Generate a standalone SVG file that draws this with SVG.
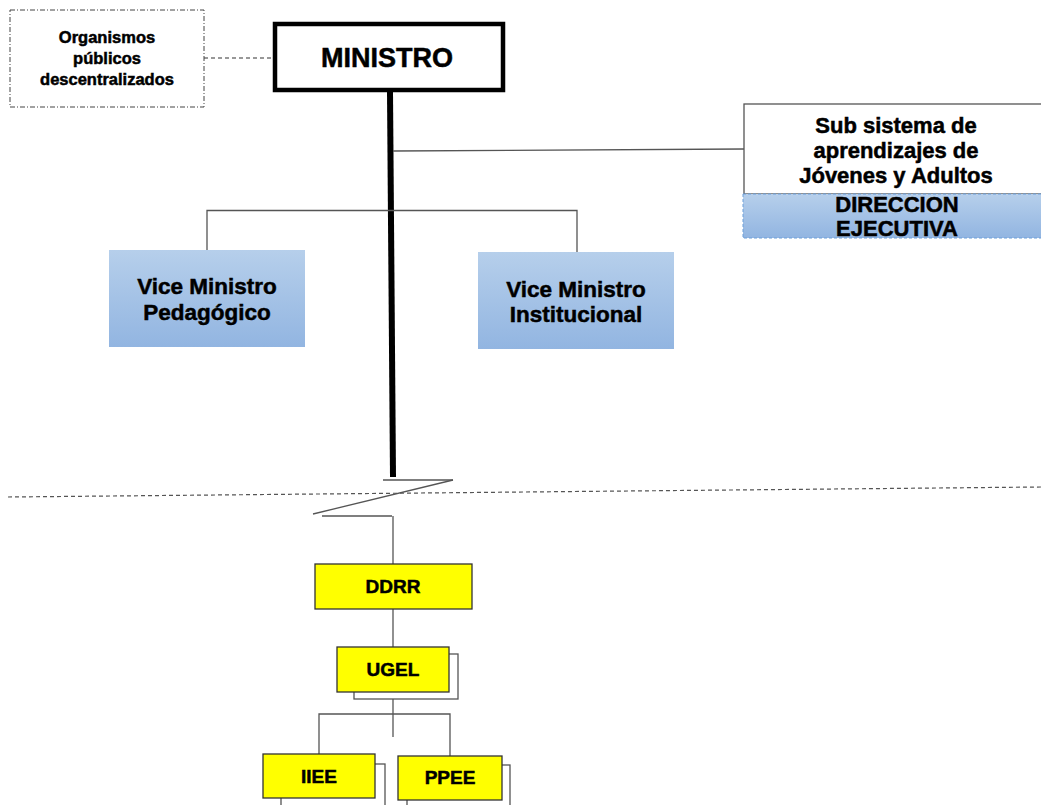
<svg xmlns="http://www.w3.org/2000/svg" width="1041" height="805" viewBox="0 0 1041 805">
<style>
text{font-family:"Liberation Sans",Arial,sans-serif;font-weight:bold;fill:#000;stroke:#000;stroke-width:0.5;text-anchor:middle}
.conn{stroke:#555;stroke-width:1.3;fill:none}
.blue{fill:url(#bg)}
.yel{fill:#ffff00;stroke:#333;stroke-width:1.3}
.shadow{fill:#fff;stroke:#555;stroke-width:1.3}
</style>
<defs>
<linearGradient id="bg" x1="0" y1="0" x2="0" y2="1">
<stop offset="0" stop-color="#b6cfeb"/>
<stop offset="1" stop-color="#92b5e1"/>
</linearGradient>
</defs>
<rect width="1041" height="805" fill="#fff"/>
<g id="connectors">
<line x1="204" y1="58" x2="273" y2="58" stroke="#777" stroke-width="1.3" stroke-dasharray="4,3"/>
<line x1="390" y1="92" x2="393" y2="477" stroke="#000" stroke-width="6"/>
<line x1="393" y1="151" x2="744" y2="149" class="conn"/>
<polyline points="207,250 207,210.5 577,210.5 577,252" class="conn"/>
<line x1="383" y1="480" x2="453" y2="480" class="conn" stroke-width="1.6"/>
<line x1="453" y1="480" x2="313" y2="514" class="conn" stroke-width="1.6"/>
<line x1="322" y1="516" x2="392" y2="516" class="conn" stroke-width="1.6"/>
<line x1="393" y1="516" x2="393" y2="564" class="conn"/>
<line x1="393" y1="609" x2="393" y2="647" class="conn"/>
<line x1="393" y1="692" x2="393" y2="737" class="conn"/>
<polyline points="319,754 319,714 450,714 450,756" class="conn"/>
<line x1="8" y1="497" x2="1041" y2="487" stroke="#555" stroke-width="1.2" stroke-dasharray="4,3"/>
</g>
<g id="organismos">
<rect x="10" y="10" width="194" height="97" fill="#fff" stroke="#444" stroke-width="1" stroke-dasharray="5,2,1,2"/>
<text x="107" y="43" font-size="16.5">Organismos</text>
<text x="107" y="64" font-size="16.5">públicos</text>
<text x="107" y="85" font-size="16.5">descentralizados</text>
</g>
<g id="ministro">
<rect x="275" y="24" width="228" height="66" fill="#fff" stroke="#000" stroke-width="4.5"/>
<text x="387" y="67" font-size="27">MINISTRO</text>
</g>
<g id="subsistema">
<rect x="744" y="104" width="310" height="90" fill="#fff" stroke="#555" stroke-width="1.3"/>
<text x="896" y="133" font-size="22">Sub sistema de</text>
<text x="896" y="158" font-size="22">aprendizajes de</text>
<text x="896" y="183" font-size="22">Jóvenes y Adultos</text>
</g>
<g id="direccion">
<rect x="743" y="194" width="310" height="44" class="blue" stroke="#6d9fd9" stroke-width="1" stroke-dasharray="3,2"/>
<text x="897" y="212" font-size="22">DIRECCION</text>
<text x="897" y="236" font-size="22">EJECUTIVA</text>
</g>
<g id="vm-pedagogico">
<rect x="109" y="250" width="196" height="97" class="blue"/>
<text x="207" y="294" font-size="22.5">Vice Ministro</text>
<text x="207" y="320" font-size="22.5">Pedagógico</text>
</g>
<g id="vm-institucional">
<rect x="478" y="252" width="196" height="97" class="blue"/>
<text x="576" y="297" font-size="22.5">Vice Ministro</text>
<text x="576" y="322" font-size="22.5">Institucional</text>
</g>
<g id="ddrr">
<rect x="315" y="564" width="157" height="45" class="yel"/>
<text x="393" y="593" font-size="19">DDRR</text>
</g>
<g id="ugel">
<rect x="354" y="654" width="104" height="45" class="shadow"/>
<rect x="337" y="647" width="112" height="45" class="yel"/>
<text x="393" y="676" font-size="19">UGEL</text>
</g>
<g id="iiee">
<rect x="281" y="764" width="104" height="50" class="shadow"/>
<rect x="263" y="754" width="112" height="44" class="yel"/>
<text x="319" y="783" font-size="19">IIEE</text>
</g>
<g id="ppee">
<rect x="407" y="765" width="103" height="50" class="shadow"/>
<rect x="398" y="756" width="104" height="44" class="yel"/>
<text x="450" y="784" font-size="19">PPEE</text>
</g>
</svg>
